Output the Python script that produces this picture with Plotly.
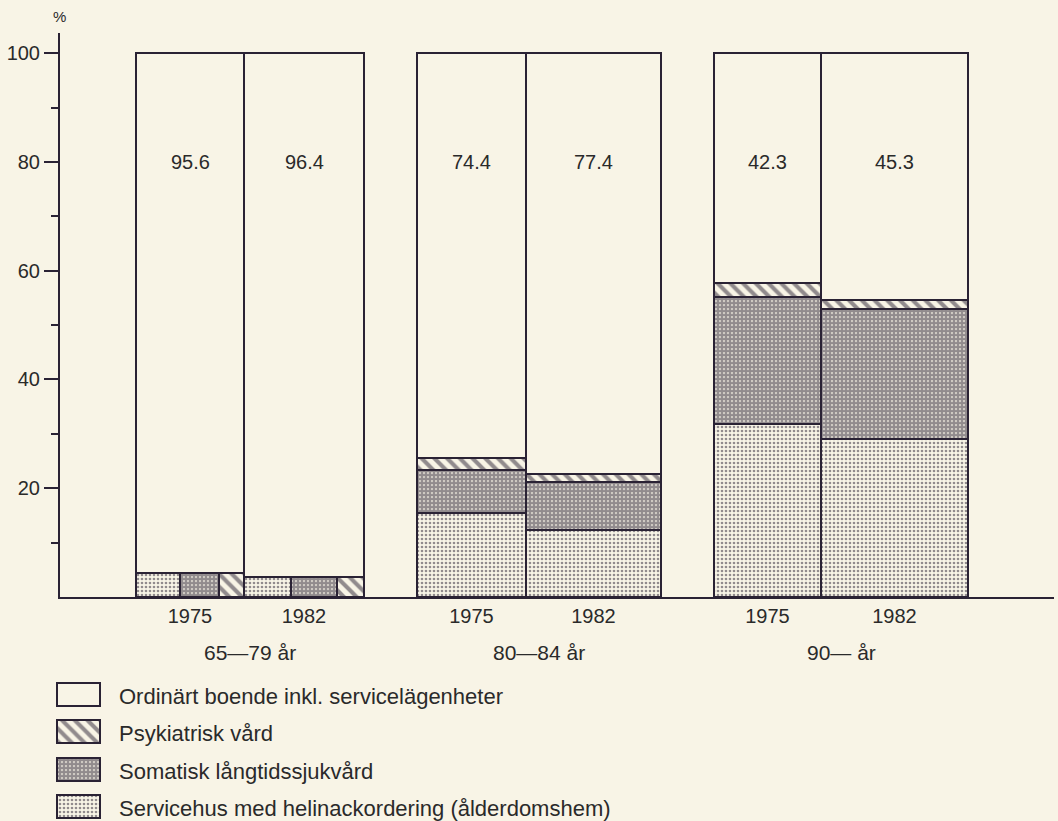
import plotly.graph_objects as go

# ---------------- data ----------------
groups = ["65—79 år", "80—84 år", "90— år"]
years = ["1975", "1982"]
series_names = [
    "Ordinärt boende inkl. servicelägenheter",
    "Psykiatrisk vård",
    "Somatisk långtidssjukvård",
    "Servicehus med helinackordering (ålderdomshem)",
]
# one value per bar: (65-79 1975, 65-79 1982, 80-84 1975, 80-84 1982, 90- 1975, 90- 1982)
ordinart = [95.6, 96.4, 74.4, 77.4, 42.3, 45.3]
psykiatrisk = [1.0, 0.8, 2.2, 1.4, 2.5, 1.8]
somatisk = [1.6, 1.4, 8.0, 8.9, 23.3, 23.9]
servicehus = [1.8, 1.4, 15.4, 12.3, 31.9, 29.0]
side_by_side_group = [True, False, False]   # small shares drawn next to each other
y_ticks = [20, 40, 60, 80, 100]
y_minor = [10, 30, 50, 70, 90]

# ---------------- layout / style ----------------
W, H = 1058, 821
ML, MR, MT, MB = 40, 4, 33, 0
PW, PH = W - ML - MR, H - MT - MB
AX_LEFT, AX_BOTTOM = 60, 597          # pixel position of the axis lines
X_SPAN = W - MR - AX_LEFT             # x axis in pixel-like units
Y_TOP = 103.7
group_left = [76, 357, 654]
bar_width = [108, 120, 109, 135, 107, 147]

BG = "#f8f4e6"
INK = "#2a2234"
TXT = "#2a2a2a"
FONT = "Liberation Sans, Arial, sans-serif"

styles = {
    "Ordinärt": dict(color=BG, line=dict(color=INK, width=2)),
    "Psykiatrisk": dict(color=BG, line=dict(color=INK, width=2),
                        pattern=dict(shape="\\", size=9, solidity=0.45, fgcolor=INK, bgcolor=BG)),
    "Somatisk": dict(color=BG, line=dict(color=INK, width=2),
                     pattern=dict(shape=".", size=4, solidity=0.8, fgcolor=INK, bgcolor=BG)),
    "Servicehus": dict(color=BG, line=dict(color=INK, width=2),
                       pattern=dict(shape=".", size=4, solidity=0.35, fgcolor=INK, bgcolor=BG)),
}
keys = ["Ordinärt", "Psykiatrisk", "Somatisk", "Servicehus"]

def px_to_paper_x(px):
    return (px - ML) / PW

def px_to_paper_y(py):
    return (H - MB - py) / PH

# bar left edges and centres
lefts, centers = [], []
for g in range(len(groups)):
    left = group_left[g]
    for j in range(len(years)):
        i = g * len(years) + j
        lefts.append(left)
        centers.append(left + bar_width[i] / 2)
        left += bar_width[i]

stack_series = [("Servicehus", servicehus), ("Somatisk", somatisk), ("Psykiatrisk", psykiatrisk)]
traces = {k: dict(x=[], y=[], base=[], width=[]) for k in keys}

n = len(ordinart)
for i in range(n):
    g = i // len(years)
    total = sum(vals[i] for _, vals in stack_series)
    if side_by_side_group[g]:
        xl = lefts[i]
        for k, vals in stack_series:
            w = bar_width[i] * vals[i] / total
            traces[k]["x"].append(xl + w / 2)
            traces[k]["width"].append(w)
            traces[k]["base"].append(0)
            traces[k]["y"].append(total)
            xl += w
    else:
        b = 0
        for k, vals in stack_series:
            traces[k]["x"].append(centers[i])
            traces[k]["width"].append(bar_width[i])
            traces[k]["base"].append(b)
            traces[k]["y"].append(vals[i])
            b += vals[i]
    traces["Ordinärt"]["x"].append(centers[i])
    traces["Ordinärt"]["width"].append(bar_width[i])
    traces["Ordinärt"]["base"].append(total)
    traces["Ordinärt"]["y"].append(ordinart[i])

fig = go.Figure()
for k, name in zip(keys, series_names):
    t = traces[k]
    fig.add_trace(go.Bar(x=t["x"], y=t["y"], base=t["base"], width=t["width"],
                         name=name, marker=styles[k], showlegend=False,
                         xaxis="x", yaxis="y", hoverinfo="skip"))

# ---------------- custom legend (swatches on their own small axes) ----------------
LEG_X0, LEG_W = 57, 43
LEG_ROW0, LEG_STEP, LEG_H = 694, 37.5, 23
LEG_TXT_X = 117
for r, (k, name) in enumerate(zip(keys, series_names)):
    cy = LEG_ROW0 + r * LEG_STEP
    fig.add_trace(go.Bar(x=[LEG_W], y=[cy], base=[LEG_X0], width=[LEG_H], orientation="h",
                         marker=styles[k], showlegend=False, xaxis="x2", yaxis="y2",
                         hoverinfo="skip"))
    fig.add_annotation(x=px_to_paper_x(LEG_TXT_X), y=px_to_paper_y(cy + 2), xref="paper", yref="paper",
                       text=name, showarrow=False, xanchor="left", yanchor="middle",
                       font=dict(size=22, color=TXT))

# value labels inside the bars
for i in range(n):
    fig.add_annotation(x=centers[i], y=80, xref="x", yref="y", text=f"{ordinart[i]:.1f}",
                       showarrow=False, xanchor="center", yanchor="middle",
                       font=dict(size=20, color=TXT))

# group labels
for g, label in enumerate(groups):
    i0, i1 = g * len(years), g * len(years) + len(years) - 1
    gc = (lefts[i0] + lefts[i1] + bar_width[i1]) / 2
    fig.add_annotation(x=gc, y=px_to_paper_y(652), xref="x", yref="paper", text=label,
                       showarrow=False, xanchor="center", yanchor="middle",
                       font=dict(size=21, color=TXT))

# "%" unit label
fig.add_annotation(x=px_to_paper_x(59), y=px_to_paper_y(17), xref="paper", yref="paper",
                   text="%", showarrow=False, xanchor="center", yanchor="middle",
                   font=dict(size=15, color=TXT))

fig.update_layout(
    width=W, height=H,
    margin=dict(l=ML, r=MR, t=MT, b=MB, pad=0),
    paper_bgcolor=BG, plot_bgcolor="rgba(0,0,0,0)",
    barmode="overlay", bargap=0,
    font=dict(family=FONT, size=20, color=TXT),
    showlegend=False,
    xaxis=dict(domain=[px_to_paper_x(AX_LEFT), 1], range=[0, X_SPAN],
               showgrid=False, zeroline=False, showline=True, linecolor=INK, linewidth=2,
               tickmode="array", tickvals=centers, ticktext=years * len(groups),
               ticks="", ticklabelstandoff=0, tickfont=dict(size=20, color=TXT),
               anchor="y", fixedrange=True),
    yaxis=dict(domain=[px_to_paper_y(AX_BOTTOM), 1], range=[0, Y_TOP],
               showgrid=False, zeroline=False, showline=True, linecolor=INK, linewidth=2,
               tickmode="array", tickvals=y_ticks, ticks="outside", ticklen=14, tickwidth=2,
               tickcolor=INK, ticklabelstandoff=0, tickfont=dict(size=20, color=TXT),
               minor=dict(tickmode="array", tickvals=y_minor, ticks="outside", ticklen=7,
                          tickwidth=2, tickcolor=INK, showgrid=False),
               anchor="x", fixedrange=True),
    xaxis2=dict(domain=[px_to_paper_x(50), px_to_paper_x(110)], range=[50, 110],
                visible=False, anchor="y2", fixedrange=True),
    yaxis2=dict(domain=[px_to_paper_y(821), px_to_paper_y(670)], range=[821, 670],
                visible=False, anchor="x2", fixedrange=True),
)

fig.write_html("out.html", config={"displayModeBar": False},
               post_script="document.body.style.margin='0px';document.body.style.background='" + BG + "';")
